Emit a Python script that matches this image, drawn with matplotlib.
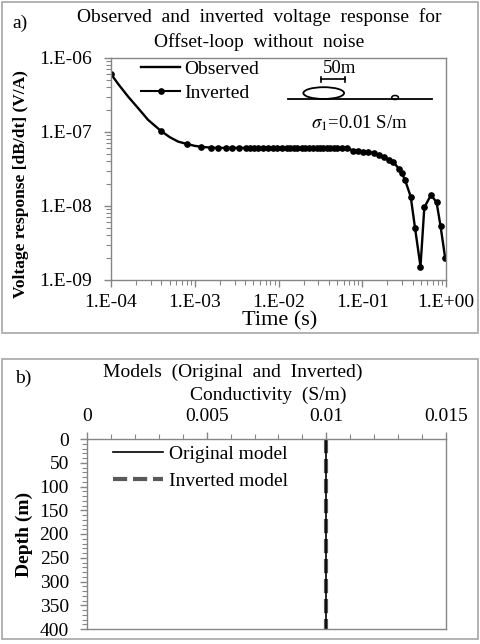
import matplotlib
matplotlib.use("Agg")
import matplotlib.pyplot as plt
from matplotlib.patches import Ellipse, Rectangle
from matplotlib.lines import Line2D
from matplotlib.ticker import FixedLocator, NullFormatter, MultipleLocator

plt.rcParams['font.family'] = ['Liberation Serif', 'DejaVu Serif']
plt.rcParams['mathtext.fontset'] = 'stix'

# ---------------- data: panel a ----------------
obs_time = [1.0e-4, 1.212e-4, 1.596e-4, 2.10e-4, 2.77e-4, 3.92e-4, 5.02e-4, 6.31e-4, 8.0e-4, 9.99e-4,
            1.19e-3, 1.57e-3, 1.90e-3, 2.36e-3, 2.78e-3, 3.37e-3, 4.09e-3, 4.57e-3, 5.10e-3, 5.69e-3,
            6.54e-3, 7.51e-3, 8.62e-3, 9.63e-3, 1.10e-2, 1.26e-2, 1.37e-2, 1.54e-2, 1.67e-2, 1.91e-2,
            2.08e-2, 2.32e-2, 2.59e-2, 2.90e-2, 3.16e-2, 3.43e-2, 3.83e-2, 4.17e-2, 4.54e-2, 5.06e-2,
            5.68e-2, 6.63e-2, 7.82e-2, 8.97e-2, 0.103, 0.118, 0.138, 0.158, 0.182, 0.209,
            0.236, 0.277, 0.298, 0.324, 0.379, 0.427, 0.496, 0.551, 0.662, 0.772, 0.860, 0.978]
obs_volt = [6.08e-7, 4.49e-7, 3.02e-7, 2.11e-7, 1.46e-7, 1.04e-7, 8.53e-8, 7.43e-8, 6.9e-8, 6.5e-8,
            6.3e-8, 6.15e-8, 6.1e-8, 6.1e-8, 6.1e-8, 6.1e-8, 6.1e-8, 6.1e-8, 6.1e-8, 6.1e-8,
            6.1e-8, 6.1e-8, 6.1e-8, 6.1e-8, 6.1e-8, 6.1e-8, 6.1e-8, 6.1e-8, 6.1e-8, 6.1e-8,
            6.1e-8, 6.1e-8, 6.1e-8, 6.1e-8, 6.1e-8, 6.1e-8, 6.05e-8, 6.05e-8, 6.05e-8, 6.05e-8,
            6.05e-8, 6.0e-8, 5.62e-8, 5.57e-8, 5.45e-8, 5.40e-8, 5.18e-8, 4.96e-8, 4.62e-8, 4.20e-8,
            3.89e-8, 3.15e-8, 2.76e-8, 2.25e-8, 1.34e-8, 5.01e-9, 1.52e-9, 9.57e-9, 1.41e-8, 1.12e-8,
            5.38e-9, 1.97e-9]

inv_time = [1.0e-4, 3.92e-4, 8.0e-4,
            1.19e-3, 1.57e-3, 1.90e-3, 2.36e-3, 2.78e-3, 3.37e-3, 4.09e-3, 4.57e-3, 5.10e-3, 5.69e-3,
            6.54e-3, 7.51e-3, 8.62e-3, 9.63e-3, 1.10e-2, 1.26e-2, 1.37e-2, 1.54e-2, 1.67e-2, 1.91e-2,
            2.08e-2, 2.32e-2, 2.59e-2, 2.90e-2, 3.16e-2, 3.43e-2, 3.83e-2, 4.17e-2, 4.54e-2, 5.06e-2,
            5.68e-2, 6.63e-2, 7.82e-2, 8.97e-2, 0.103, 0.118, 0.138, 0.158, 0.182, 0.209,
            0.236, 0.277, 0.298, 0.324, 0.379, 0.427, 0.496, 0.551, 0.662, 0.772, 0.860, 0.978]
inv_volt = [6.08e-7, 1.04e-7, 6.9e-8,
            6.3e-8, 6.15e-8, 6.1e-8, 6.1e-8, 6.1e-8, 6.1e-8, 6.1e-8, 6.1e-8, 6.1e-8, 6.1e-8,
            6.1e-8, 6.1e-8, 6.1e-8, 6.1e-8, 6.1e-8, 6.1e-8, 6.1e-8, 6.1e-8, 6.1e-8, 6.1e-8,
            6.1e-8, 6.1e-8, 6.1e-8, 6.1e-8, 6.1e-8, 6.1e-8, 6.05e-8, 6.05e-8, 6.05e-8, 6.05e-8,
            6.05e-8, 6.0e-8, 5.62e-8, 5.57e-8, 5.45e-8, 5.40e-8, 5.18e-8, 4.96e-8, 4.62e-8, 4.20e-8,
            3.89e-8, 3.15e-8, 2.76e-8, 2.25e-8, 1.34e-8, 5.01e-9, 1.52e-9, 9.57e-9, 1.41e-8, 1.12e-8,
            5.38e-9, 1.97e-9]

time_ticks = [1e-4, 1e-3, 1e-2, 1e-1, 1e0]
time_labels = ['1.E-04', '1.E-03', '1.E-02', '1.E-01', '1.E+00']
volt_ticks = [1e-9, 1e-8, 1e-7, 1e-6]
volt_labels = ['1.E-09', '1.E-08', '1.E-07', '1.E-06']

# ---------------- data: panel b ----------------
orig_cond = [0.01, 0.01]
orig_depth = [0, 400]
inv_cond = [0.01, 0.01]
inv_depth = [0, 400]
cond_ticks = [0, 0.005, 0.01, 0.015]
cond_labels = ['0', '0.005', '0.01', '0.015']
depth_ticks = [0, 50, 100, 150, 200, 250, 300, 350, 400]

W, H = 480, 644
fig = plt.figure(figsize=(W / 100, H / 100), dpi=100)

def fx(px):
    return px / W

def fy(py):
    return 1 - py / H

GRID = '#868686'
FS = 14

# outer boxes
for (x0, y0, x1, y1) in [(2, 2, 478, 333), (2, 359, 478, 639)]:
    fig.patches.append(Rectangle((fx(x0), fy(y1)), fx(x1 - x0), (y1 - y0) / H,
                                 transform=fig.transFigure, fill=False,
                                 edgecolor='#a6a6a6', lw=1.2))

# ---------------- panel a ----------------
axL, axR, axT, axB = 111, 446, 58, 280
ax = fig.add_axes([fx(axL), fy(axB), fx(axR - axL), (axB - axT) / H])
obs_line, = ax.plot(obs_time, obs_volt, color='black', lw=1.7, solid_joinstyle='round')
ax.plot(inv_time, inv_volt, color='black', linestyle='none', marker='o', ms=3.8)
ax.set_xscale('log')
ax.set_yscale('log')
ax.set_xlim(1e-4, 1e0)
ax.set_ylim(1e-9, 1e-6)
ax.xaxis.set_major_locator(FixedLocator(time_ticks))
ax.set_xticklabels(time_labels)
ax.yaxis.set_major_locator(FixedLocator(volt_ticks))
ax.set_yticklabels(volt_labels)
ax.xaxis.set_minor_formatter(NullFormatter())
ax.yaxis.set_minor_formatter(NullFormatter())
for s in ax.spines.values():
    s.set_color(GRID)
    s.set_linewidth(1.0)
ax.tick_params(axis='both', which='major', direction='out', length=5, width=1, color=GRID,
               labelsize=FS)
ax.tick_params(axis='both', which='minor', direction='out', length=3.5, width=0.8, color=GRID)
ax.tick_params(axis='x', which='major', pad=5)
ax.tick_params(axis='y', which='major', pad=9)

inv_handle = Line2D([], [], color='black', lw=1.5, marker='o', ms=3.8)
ax.legend([obs_line, inv_handle], ['Observed', 'Inverted'], loc='upper left',
          bbox_to_anchor=(0.09, 0.99), frameon=False, fontsize=FS,
          handlelength=2.0, handletextpad=0.2, labelspacing=0.33, borderpad=0,
          borderaxespad=0)

ax.set_ylabel('Voltage response [dB/dt] (V/A)', fontsize=12.5, fontweight='bold')
ax.yaxis.set_label_coords(-0.245, 0.43)

# inset sketch (decoration, axes-fraction coordinates)
ax.add_line(Line2D([0.528, 0.958], [0.815, 0.815], transform=ax.transAxes, color='black', lw=1.3))
ax.add_patch(Ellipse((0.635, 0.842), 0.1215, 0.053, transform=ax.transAxes, fill=False,
                     edgecolor='black', lw=1.3))
ax.add_patch(Ellipse((0.848, 0.822), 0.02, 0.018, transform=ax.transAxes, fill=False,
                     edgecolor='black', lw=1.1))
ax.add_line(Line2D([0.627, 0.699], [0.904, 0.904], transform=ax.transAxes, color='black', lw=1.2))
for xe in (0.627, 0.699):
    ax.add_line(Line2D([xe, xe], [0.894, 0.914], transform=ax.transAxes, color='black', lw=1.2))
ax.text(0.681, 0.952, '50m', transform=ax.transAxes, ha='center', va='center', fontsize=13.5)
ax.text(0.743, 0.707, r'$\sigma_1$=0.01 S/m', transform=ax.transAxes, ha='center', va='center',
        fontsize=13.5)

fig.text(fx(20), fy(23), 'a)', fontsize=FS, ha='center', va='center')
fig.text(fx(259.5), fy(16.7), 'Observed  and  inverted  voltage  response  for', fontsize=FS,
         ha='center', va='center')
fig.text(fx(259.5), fy(42.3), 'Offset-loop  without  noise', fontsize=FS, ha='center', va='center')
fig.text(fx(280), fy(321), 'Time (s)', fontsize=16, ha='center', va='center')

# ---------------- panel b ----------------
bL, bR, bT, bB = 87, 446, 439, 629
bx = fig.add_axes([fx(bL), fy(bB), fx(bR - bL), (bB - bT) / H])
bx.plot(inv_cond, inv_depth, color='#595959', lw=3.0, dashes=(3.4, 1.4), label='Inverted model')
bx.plot(orig_cond, orig_depth, color='black', lw=1.2, label='Original model')
bx.set_xlim(0, 0.015)
bx.set_ylim(400, 0)
bx.xaxis.tick_top()
bx.xaxis.set_major_locator(FixedLocator(cond_ticks))
bx.set_xticklabels(cond_labels)
bx.xaxis.set_minor_locator(MultipleLocator(0.001))
bx.yaxis.set_major_locator(FixedLocator(depth_ticks))
bx.yaxis.set_minor_locator(MultipleLocator(10))
for s in bx.spines.values():
    s.set_color(GRID)
    s.set_linewidth(1.0)
bx.tick_params(axis='both', which='major', direction='out', length=5, width=1, color=GRID,
               labelsize=FS)
bx.tick_params(axis='both', which='minor', direction='out', length=3.5, width=0.8, color=GRID)
bx.tick_params(axis='x', which='major', pad=5)
bx.tick_params(axis='y', which='major', pad=8)
h, l = bx.get_legend_handles_labels()
bx.legend([h[1], h[0]], [l[1], l[0]], loc='upper left', bbox_to_anchor=(0.072, 0.965),
          frameon=False, fontsize=FS, handlelength=2.6, handletextpad=0.3, labelspacing=0.45,
          borderpad=0, borderaxespad=0)
bx.set_ylabel('Depth (m)', fontsize=14, fontweight='bold')
bx.yaxis.set_label_coords(-0.15, 0.5)

fig.text(fx(23), fy(378), 'b)', fontsize=FS, ha='center', va='center')
fig.text(fx(233), fy(372.7), 'Models  (Original  and  Inverted)', fontsize=FS, ha='center',
         va='center')
fig.text(fx(268), fy(395.7), 'Conductivity  (S/m)', fontsize=FS, ha='center', va='center')

fig.savefig('out.png', dpi=100)
